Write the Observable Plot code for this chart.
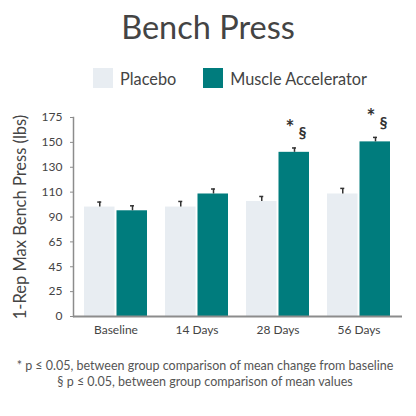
<!DOCTYPE html>
<html>
<head>
<meta charset="utf-8">
<script src="https://cdn.jsdelivr.net/npm/d3@7"></script>
<script src="https://cdn.jsdelivr.net/npm/@observablehq/plot@0.6"></script>
<style>
  html, body { margin: 0; padding: 0; background: #fff; }
  #wrap { position: relative; width: 416px; height: 416px; overflow: hidden; font-family: Lato, sans-serif; color: #444; }
  #title { position: absolute; left: 0; top: 7px; width: 416px; text-align: center; font-size: 32.5px; line-height: normal; white-space: nowrap; }
  #legend { position: absolute; top: 68px; left: 93px; height: 20px; display: flex; align-items: center; font-size: 16.3px; white-space: nowrap; }
  #legend .item { display: flex; align-items: center; margin-right: 27px; }
  #legend .sw { width: 20px; height: 20px; margin-right: 7px; }
  #chart { position: absolute; top: 100px; left: 0; }
  #notes { position: absolute; top: 358px; left: -3px; width: 416px; text-align: center; font-size: 12.5px; line-height: 16px; color: #555; }
</style>
</head>
<body>
<div id="wrap">
  <div id="title"></div>
  <div id="legend"></div>
  <div id="chart"></div>
  <div id="notes"></div>
</div>
<script>
// ---- data ----
const titleText = "Bench Press";
const yLabel = "1-Rep Max Bench Press (lbs)";
const categories = ["Baseline", "14 Days", "28 Days", "56 Days"];
const seriesNames = ["Placebo", "Muscle Accelerator"];
const seriesColors = ["#e8edf2", "#007c7d"];
const placebo = [98, 98, 102.5, 108.5];
const placeboErr = [4, 4.5, 4, 4.5];
const accel = [95, 108.5, 142, 150.5];
const accelErr = [4, 4, 3.5, 4.5];
const significant = [false, false, true, true];
const yTicks = [0, 25, 45, 65, 90, 110, 130, 150, 175];
const footnotes = [
  "* p \u2264 0.05, between group comparison of mean change from baseline",
  "\u00a7 p \u2264 0.05, between group comparison of mean values"
];

// ---- html parts ----
document.getElementById("title").textContent = titleText;
const legend = document.getElementById("legend");
seriesNames.forEach((name, i) => {
  const item = document.createElement("div");
  item.className = "item";
  const sw = document.createElement("div");
  sw.className = "sw";
  sw.style.background = seriesColors[i];
  const label = document.createElement("span");
  label.textContent = name;
  item.append(sw, label);
  legend.append(item);
});
const notes = document.getElementById("notes");
footnotes.forEach(t => { const d = document.createElement("div"); d.textContent = t; notes.append(d); });

// ---- chart ----
// The reference's value axis is piecewise: its tick labels are evenly spaced.
// Values are mapped into "tick index" space, then drawn through Plot's linear y scale.
const toIdx = d3.scaleLinear(yTicks, d3.range(yTicks.length));
const rows = categories.map((c, i) => ({
  category: c,
  placebo: toIdx(placebo[i]), placeboTop: toIdx(placebo[i] + placeboErr[i]),
  accel: toIdx(accel[i]), accelTop: toIdx(accel[i] + accelErr[i]),
  sig: significant[i]
}));
const W = 416, H = 245, mT = 17, mB = 29, mL = 73, mR = 14;
const axisColor = "#8c8c8c";
const errColor = "#333";

const chart = Plot.plot({
  width: W, height: H,
  marginTop: mT, marginBottom: mB, marginLeft: mL, marginRight: mR,
  style: { fontFamily: "Lato, sans-serif", fontSize: "12px", color: "#444", background: "transparent" },
  x: { domain: categories, paddingInner: 0.22, paddingOuter: 0.12, label: null },
  y: { domain: [0, yTicks.length - 1], label: null },
  marks: [
    Plot.barY(rows, { x: "category", y: "placebo", fill: seriesColors[0], insetRight: 32.5 }),
    Plot.barY(rows, { x: "category", y: "accel", fill: seriesColors[1], insetLeft: 32.5 }),
    Plot.ruleX(rows, { x: "category", y1: "placebo", y2: "placeboTop", dx: -16.25, stroke: errColor, strokeWidth: 1.5 }),
    Plot.tickY(rows, { x: "category", y: "placeboTop", dx: -16.25, insetLeft: 29.5, insetRight: 29.5, stroke: errColor, strokeWidth: 1.5 }),
    Plot.ruleX(rows, { x: "category", y1: "accel", y2: "accelTop", dx: 16.5, stroke: errColor, strokeWidth: 1.5 }),
    Plot.tickY(rows, { x: "category", y: "accelTop", dx: 16.5, insetLeft: 29.5, insetRight: 29.5, stroke: errColor, strokeWidth: 1.5 }),
    Plot.text(rows.filter(d => d.sig), { x: "category", y: "accelTop", text: () => "*", dx: 12, dy: -20, fontSize: 21, fontWeight: "bold", fill: "#333" }),
    Plot.text(rows.filter(d => d.sig), { x: "category", y: "accelTop", text: () => "\u00a7", dx: 24.5, dy: -15, fontSize: 16, fontWeight: "bold", fill: "#333" }),
    Plot.axisY({ ticks: d3.range(yTicks.length), tickFormat: i => yTicks[i], tickSize: 3, tickPadding: 8, stroke: axisColor, fill: "#444", fontSize: 12, label: null }),
    Plot.axisX({ tickSize: 0, tickPadding: 9, fill: "#444", fontSize: 12, label: null }),
    Plot.frame({ anchor: "left", stroke: axisColor, strokeWidth: 1.5 }),
    Plot.ruleY([0], { stroke: axisColor, strokeWidth: 2 }),
    Plot.text([yLabel], { frameAnchor: "left", textAnchor: "middle", dx: -53, rotate: -90, fontSize: 16.5, fill: "#444" })
  ]
});
document.getElementById("chart").append(chart);
</script>
</body>
</html>
